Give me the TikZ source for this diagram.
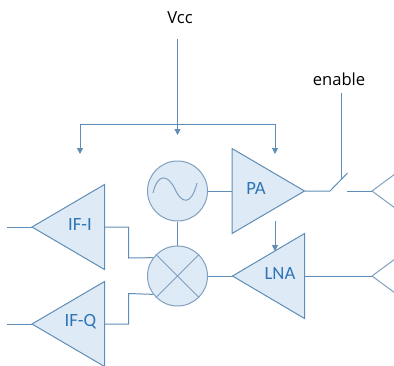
\documentclass[tikz,border=0pt]{standalone}
\usepackage{fontspec}
\setmainfont{Carlito}
\newfontfamily\plainfont{Open Sans}
\usetikzlibrary{arrows.meta}
\definecolor{wire}{HTML}{5F8DB5}
\definecolor{shapeline}{HTML}{7FA0BF}
\definecolor{shapefill}{HTML}{DEEAF6}
\definecolor{bluetext}{HTML}{2E75B6}
\tikzset{
  wireline/.style={draw=wire,line width=1pt},
  feed/.style={wireline,-{Triangle[length=6pt,width=6pt]}},
  tri/.style={draw=wire,line width=1pt,fill=shapefill,line join=miter},
  disc/.style={circle,draw=shapeline,line width=1pt,fill=shapefill,minimum size=60pt,inner sep=0pt},
  blocklabel/.style={font=\fontsize{18.7}{20}\selectfont,text=bluetext,inner sep=0pt},
  plainlabel/.style={font=\plainfont\fontsize{16.6}{20}\selectfont,text=black,inner sep=0pt},
}
\begin{document}
\begin{tikzpicture}[x=1pt,y=-1pt]
\useasboundingbox (0,0) rectangle (394,365);
\clip (0,0) rectangle (394,365);
% points
\coordinate (vtop) at (177.5,39);
\coordinate (vhit) at (177.5,135);
\coordinate (busL) at (80,124);
\coordinate (busR) at (275,124);
\coordinate (arrL) at (80,154);
\coordinate (arrR) at (275,154);
\coordinate (iIn) at (7,227);
\coordinate (iTip) at (32,227);
\coordinate (iOut) at (104.5,227);
\coordinate (iTop) at (104.5,184.5);
\coordinate (iBot) at (104.5,269.5);
\coordinate (qIn) at (7,324);
\coordinate (qTip) at (32,324);
\coordinate (qOut) at (104.5,324);
\coordinate (qTop) at (104.5,281.5);
\coordinate (qBot) at (104.5,366.5);
\coordinate (paIn) at (232,191);
\coordinate (paTop) at (232,148.5);
\coordinate (paBot) at (232,233.5);
\coordinate (paTip) at (304.5,191);
\coordinate (lnaTip) at (232.5,276);
\coordinate (lnaIn) at (304.5,276);
\coordinate (lnaTop) at (304.5,233.5);
\coordinate (lnaBot) at (304.5,318.5);
\coordinate (swA) at (330,191);
\coordinate (swB) at (347.5,173);
\coordinate (swC) at (347,191);
\coordinate (enA) at (341,93);
\coordinate (enB) at (341,179.5);
\coordinate (antT) at (372,191);
\coordinate (antTa) at (395,174);
\coordinate (antTb) at (395,208);
\coordinate (antB) at (372,276);
\coordinate (antBa) at (395,259);
\coordinate (antBb) at (395,293);
\coordinate (fbA) at (275,221);
\coordinate (fbB) at (275,251);
\coordinate (iBendA) at (128.5,227);
\coordinate (iBendB) at (128.5,258);
\coordinate (qBendA) at (128.5,324);
\coordinate (qBendB) at (128.5,293.5);
% wires under shapes
\draw[wireline] (iIn) -- (iTip);
\draw[wireline] (qIn) -- (qTip);
% shapes
\node[disc] (osc) at (177.5,191) {};
\node[disc] (mix) at (177.5,276) {};
\draw[tri] (iTip) -- (iTop) -- (iBot) -- cycle;
\draw[tri] (qTip) -- (qTop) -- (qBot) -- cycle;
\draw[tri] (paTop) -- (paTip) -- (paBot) -- cycle;
\draw[tri] (lnaTip) -- (lnaTop) -- (lnaBot) -- cycle;
% symbols in circles
\draw[shapeline,line width=1pt] (153,193) .. controls (158,172) and (168,175) .. (175,189) .. controls (181,203) and (191,207) .. (197,183);
\draw[shapeline,line width=1pt] (mix.north west) -- (mix.south east);
\draw[shapeline,line width=1pt] (mix.north east) -- (mix.south west);
% labels
\node[plainlabel] (vcc) at (180,18) {Vcc};
\node[plainlabel] (enable) at (339,79) {enable};
\node[blocklabel] (pa) at (256,188) {PA};
\node[blocklabel] (lna) at (280,273) {LNA};
\node[blocklabel] (ifi) at (80,224) {IF-I};
\node[blocklabel] (ifq) at (80.5,322) {IF-Q};
% connectors
\draw[feed] (vtop) -- (vhit);
\draw[wireline] (busL) -- (busR);
\draw[feed] (busL) -- (arrL);
\draw[feed] (busR) -- (arrR);
\draw[wireline] (osc) -- (mix);
\draw[wireline] (osc.east) -- (paIn);
\draw[wireline] (mix.east) -- (lnaTip);
\draw[wireline] (iOut) -- (iBendA) -- (iBendB) -- (mix.143);
\draw[wireline] (qOut) -- (qBendA) -- (qBendB) -- (mix.217);
\draw[wireline] (paTip) -- (swA) -- (swB);
\draw[wireline] (enA) -- (enB);
\draw[wireline] (swC) -- (antT);
\draw[wireline] (lnaIn) -- (antB);
\draw[wireline,draw=shapeline] (antTa) -- (antT) -- (antTb);
\draw[wireline,draw=shapeline] (antBa) -- (antB) -- (antBb);
\draw[feed] (fbA) -- (fbB);
\end{tikzpicture}
\end{document}
